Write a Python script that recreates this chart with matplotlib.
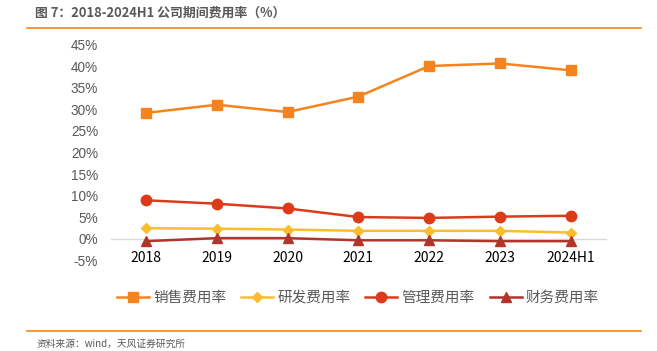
import matplotlib.pyplot as plt
from matplotlib.lines import Line2D

plt.rcParams['font.family'] = ['Noto Sans CJK SC', 'DejaVu Sans']

# data (percent)
years = ['2018', '2019', '2020', '2021', '2022', '2023', '2024H1']
salesRate = [29.2, 31.1, 29.4, 33.0, 40.1, 40.7, 39.1]
rdRate = [2.4, 2.3, 2.1, 1.8, 1.8, 1.8, 1.4]
adminRate = [8.9, 8.1, 7.0, 5.0, 4.8, 5.1, 5.3]
financeRate = [-0.6, 0.1, 0.1, -0.4, -0.4, -0.6, -0.6]
seriesNames = ['销售费用率', '研发费用率', '管理费用率', '财务费用率']
yTicks = [-5, 0, 5, 10, 15, 20, 25, 30, 35, 40, 45]

colors = ['#F5841F', '#FBBD2E', '#DC3B1A', '#B1352A']
markers = ['s', 'D', 'o', '^']
sizes = [7, 5, 7.5, 6.5]
textColor = '#595959'
latin = ['Liberation Sans', 'DejaVu Sans']

fig = plt.figure(figsize=(6.57, 3.51), dpi=100)
ax = fig.add_axes([0.1685, 0.259, 0.754, 0.613])

x = list(range(len(years)))
allSeries = [salesRate, rdRate, adminRate, financeRate]
for values, name, c, m, s in zip(allSeries, seriesNames, colors, markers, sizes):
    ax.plot(x, values, color=c, marker=m, markersize=s, linewidth=1.8, label=name, zorder=3)

ax.set_xlim(-0.5, len(years) - 0.5)
ax.set_ylim(-5, 45)
ax.set_yticks(yTicks)
ax.set_yticklabels([f'{t}%' for t in yTicks], color=textColor, fontsize=9.8, family=latin)
ax.set_xticks(x)
ax.set_xticklabels(years, color=textColor, fontsize=9.5, family=latin)
ax.tick_params(axis='both', length=0)
ax.tick_params(axis='x', pad=9)
ax.tick_params(axis='y', pad=9)

for side in ['top', 'right', 'left']:
    ax.spines[side].set_visible(False)
ax.spines['bottom'].set_position(('data', 0))
ax.spines['bottom'].set_color('#D9D9D9')
ax.spines['bottom'].set_linewidth(1)
ax.patch.set_alpha(0)

# legend
handles = [Line2D([0], [0], color=c, marker=m, markersize=s, linewidth=1.8)
           for c, m, s in zip(colors, markers, sizes)]
fig.legend(handles, seriesNames, loc='center', bbox_to_anchor=(0.545, 0.151), ncol=4,
           frameon=False, fontsize=10.5, labelcolor=textColor, handlelength=2.2,
           handletextpad=0.3, columnspacing=1.0)

# title and source
fig.text(0.053, 0.963, '图 7：2018-2024H1 公司期间费用率（%）', fontsize=9.3, fontweight='bold',
         color=textColor, va='center', ha='left')
fig.add_artist(Line2D([0.041, 0.975], [0.92, 0.92], color='#F5841F', linewidth=1.2))
fig.add_artist(Line2D([0.041, 0.975], [0.057, 0.057], color='#F5841F', linewidth=1.2))
fig.text(0.055, 0.02, '资料来源：wind，天风证券研究所', fontsize=7, color=textColor,
         va='center', ha='left')

fig.savefig('out.png', dpi=100)
